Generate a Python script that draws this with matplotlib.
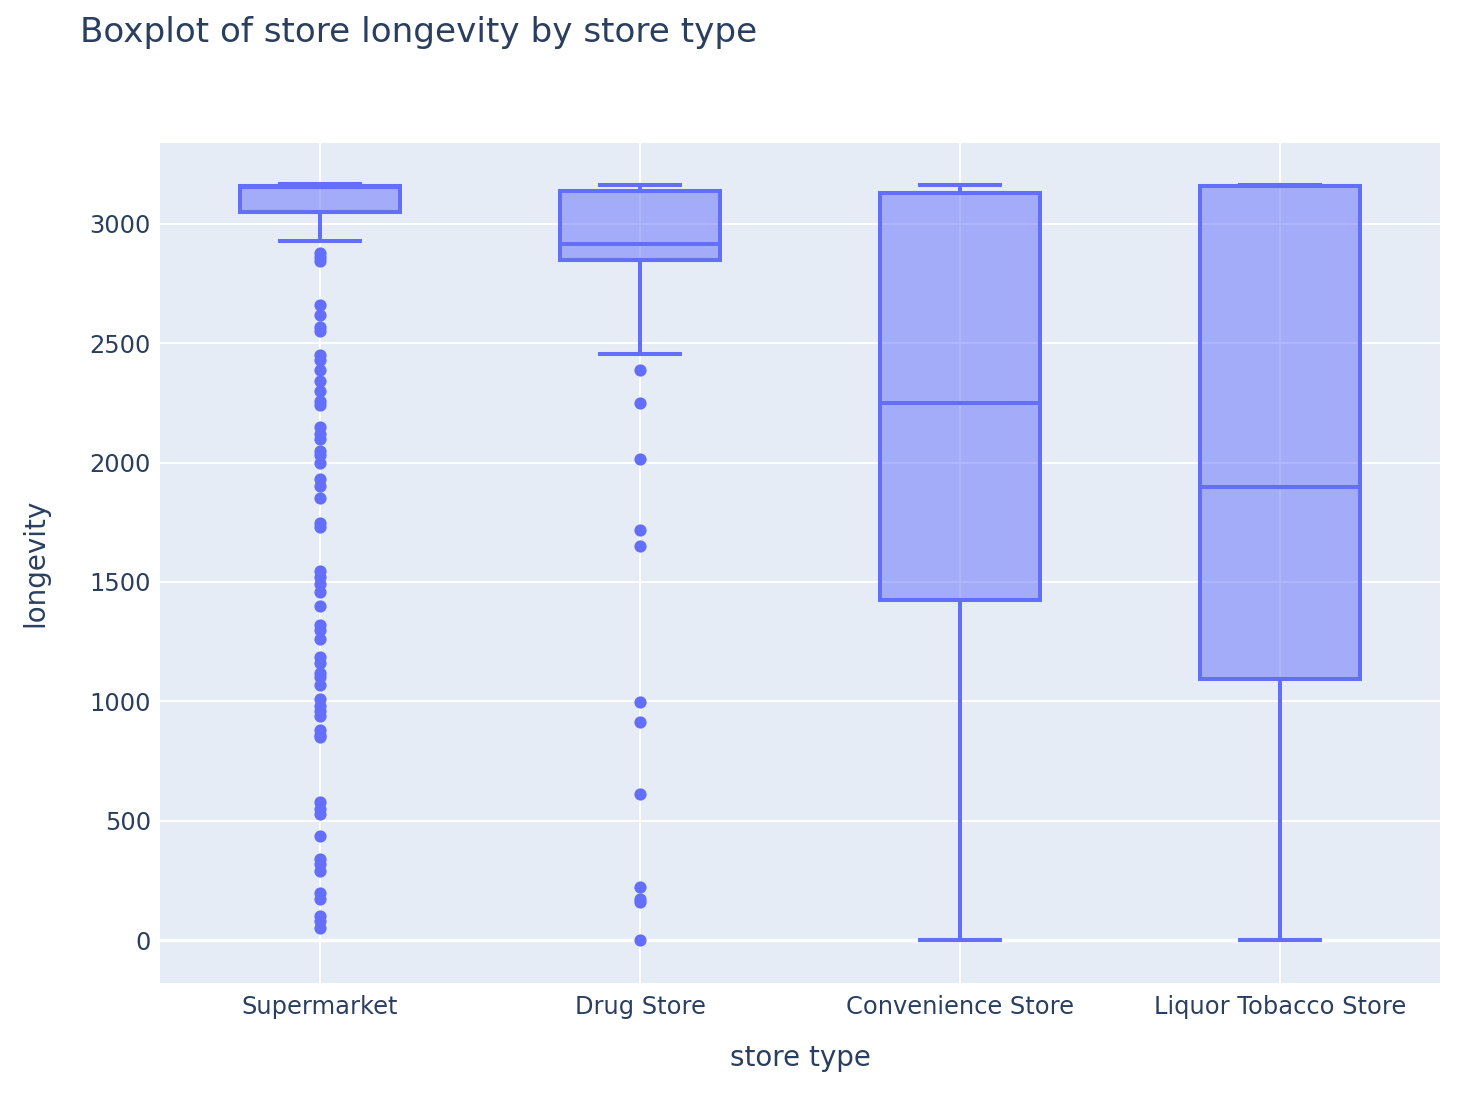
import numpy as np
import matplotlib.pyplot as plt

# store types and box statistics
store_types = ["Supermarket", "Drug Store", "Convenience Store", "Liquor Tobacco Store"]
q1 = [3050, 2850, 1425, 1094]
med = [3155, 2916, 2250, 1898]
q3 = [3158, 3140, 3130, 3158]
whislo = [2929, 2455, 0, 0]
whishi = [3167, 3165, 3165, 3165]

supermarket_out = [2880, 2860, 2845, 2660, 2620, 2570, 2550, 2450, 2430, 2390, 2340,
                   2300, 2260, 2240, 2150, 2120, 2100, 2050, 2030, 2000, 1930, 1900,
                   1850, 1745, 1730, 1545, 1520, 1490, 1460, 1400, 1320, 1300, 1260,
                   1185, 1160, 1120, 1100, 1070, 1010, 980, 960, 940, 880, 860, 850,
                   580, 550, 530, 435, 340, 320, 290, 195, 170, 100, 80, 50]
drugstore_out = [2388, 2250, 2014, 1717, 1652, 997, 915, 612, 221, 170, 160, 0]
convenience_out = []
liquor_out = []
outliers = [supermarket_out, drugstore_out, convenience_out, liquor_out]

blue = "#636EFA"
ink = "#2a3f5f"
plt.rcParams['font.family'] = ['DejaVu Sans']

stats = []
for i, name in enumerate(store_types):
    stats.append(dict(label=name, q1=q1[i], med=med[i], q3=q3[i],
                      whislo=whislo[i], whishi=whishi[i], fliers=outliers[i]))

fig = plt.figure(figsize=(14.66, 10.96), dpi=100)
ax = fig.add_axes([160 / 1466, 113 / 1096, 1280 / 1466, 840 / 1096])
ax.set_facecolor("#E5ECF6")

lw = 2.9  # ~4 px
pos = np.arange(len(store_types))
ax.bxp(stats, positions=pos, widths=0.5, patch_artist=True, showfliers=True,
       boxprops=dict(facecolor=(99/255, 110/255, 250/255, 0.5), edgecolor=blue, linewidth=lw),
       medianprops=dict(color=blue, linewidth=lw),
       whiskerprops=dict(color=blue, linewidth=lw),
       capprops=dict(color=blue, linewidth=lw),
       flierprops=dict(marker='o', markerfacecolor=blue, markeredgecolor=blue,
                       markersize=8.8, markeredgewidth=0, linestyle='none'),
       capwidths=0.25, zorder=3)

ax.set_xlim(-0.5, 3.5)
ax.set_ylim(-180, 3339)
ax.set_yticks([0, 500, 1000, 1500, 2000, 2500, 3000])
ax.set_xticks(pos)
ax.set_xticklabels(store_types)
ax.grid(True, color="white", linewidth=1.45, zorder=0)
ax.set_axisbelow(True)
ax.axhline(0, color="white", linewidth=2.5, zorder=1)
for s in ax.spines.values():
    s.set_visible(False)
ax.tick_params(length=0, labelsize=17.4, labelcolor=ink)
ax.tick_params(axis='y', pad=6.5)
ax.tick_params(axis='x', pad=8.5)

fig.text(80 / 1466, 1 - 42 / 1096, "Boxplot of store longevity by store type",
         fontsize=24.6, color=ink, va='baseline', ha='left')
fig.text(800 / 1466, 1 - 1058 / 1096, "store type", fontsize=20, color=ink,
         va='center', ha='center')
fig.text(35 / 1466, 1 - 563 / 1096, "longevity", fontsize=20, color=ink,
         va='center', ha='center', rotation=90)

fig.savefig("out.png", dpi=100)
